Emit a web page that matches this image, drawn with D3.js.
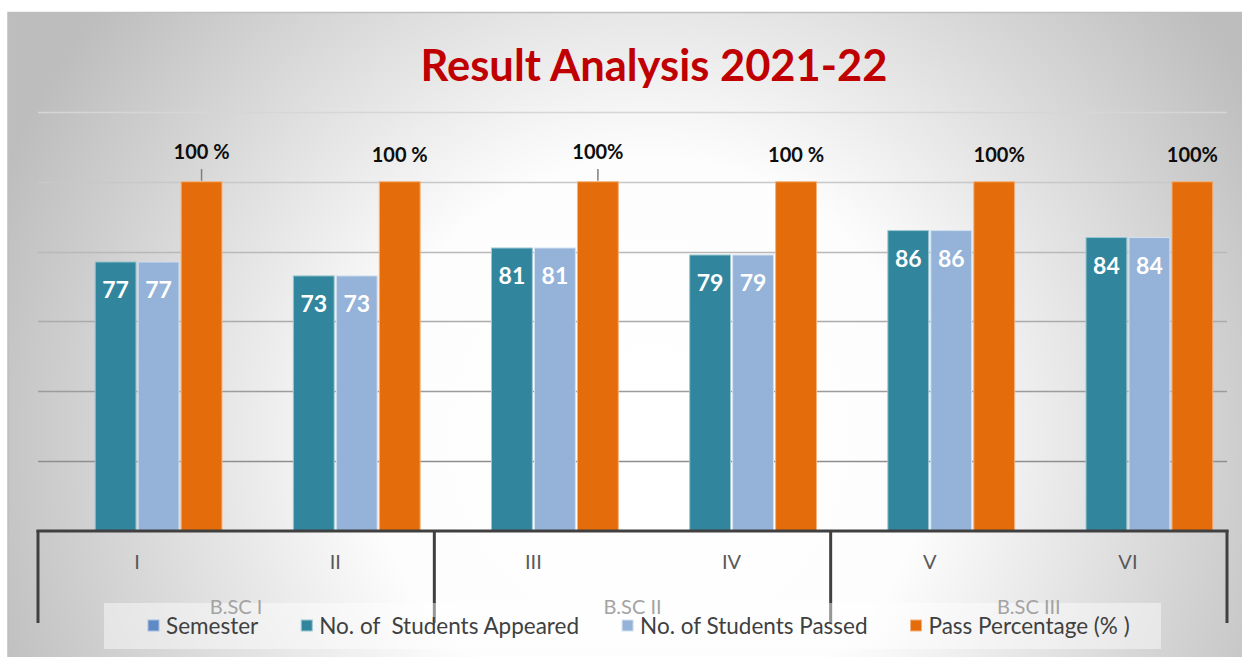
<!DOCTYPE html>
<html><head><meta charset="utf-8">
<script src="https://cdn.jsdelivr.net/npm/d3@7/dist/d3.min.js"></script>
<style>
html,body{margin:0;padding:0;background:#fff;}
svg{display:block;font-family:Lato,"Open Sans",sans-serif;}
</style></head>
<body>
<svg id="chart" width="1242" height="657"></svg>
<script>
// ---- data ----
const title = "Result Analysis 2021-22";
const semesters = ["I","II","III","IV","V","VI"];
const courses = ["B.SC I","B.SC II","B.SC III"];
const courseOf = ["B.SC I","B.SC I","B.SC II","B.SC II","B.SC III","B.SC III"];
const seriesNames = ["Semester","No. of  Students Appeared","No. of Students Passed","Pass Percentage (% )"];
const appeared = [77,73,81,79,86,84];
const passed = [77,73,81,79,86,84];
const passPct = [100,100,100,100,100,100];
const passPctLabels = ["100 %","100 %","100%","100 %","100%","100%"];
const leaderLabelSemesters = ["I","III"];
const yTicks = [20,40,60,80,100,120];

// ---- setup ----
const svg = d3.select("#chart");
const W = 1242, H = 657;
const colors = {"Semester":"#5f8ac6","No. of  Students Appeared":"#31869d","No. of Students Passed":"#95b3d8","Pass Percentage (% )":"#e46c0a"};
const strokes = {"Semester":"#a9c0e2","No. of  Students Appeared":"#9cc7d2","No. of Students Passed":"#d3e0f0","Pass Percentage (% )":"#f6b27a"};

const defs = svg.append("defs");
const rg = defs.append("radialGradient").attr("id","bg").attr("gradientUnits","userSpaceOnUse")
  .attr("cx",650).attr("cy",440).attr("r",700);
rg.append("stop").attr("offset","0").attr("stop-color","#ffffff");
rg.append("stop").attr("offset","0.4").attr("stop-color","#fdfdfd");
rg.append("stop").attr("offset","1").attr("stop-color","#bdbdbd");

svg.append("rect").attr("x",8).attr("y",12).attr("width",W-8).attr("height",H-12).attr("fill","url(#bg)");
svg.append("path").attr("d",`M8,${H} V12.5 H${W}`).attr("fill","none").attr("stroke","#bfbfbf").attr("stroke-width",1.5);

// title
svg.append("text").attr("x",654).attr("y",81).attr("text-anchor","middle")
  .attr("font-size",44).attr("font-weight",700).attr("fill","#c00000")
  .attr("textLength",467).attr("lengthAdjust","spacingAndGlyphs").text(title);

// scales
const x0 = d3.scaleBand().domain(semesters).range([38,1227]);
const x1 = d3.scaleBand().domain(seriesNames).range([0,x0.bandwidth()]).paddingInner(0.05).paddingOuter(0.33);
const y = d3.scaleLinear().domain([0,120]).range([530.5,112]);

// gridlines
const gridColor = d3.scaleLinear().domain([20,120]).range(["#8e8e8e","#d6d6d6"]);
svg.append("g").selectAll("line").data(yTicks).join("line")
  .attr("x1",38).attr("x2",1227).attr("y1",d=>Math.round(y(d))+0.5).attr("y2",d=>Math.round(y(d))+0.5)
  .attr("stroke",d=>gridColor(d)).attr("stroke-width",1.5);

// bars
const rows = semesters.map((s,i)=>({sem:s, vals:[
  {k:seriesNames[0], v:null},
  {k:seriesNames[1], v:appeared[i]},
  {k:seriesNames[2], v:passed[i]},
  {k:seriesNames[3], v:passPct[i], label:passPctLabels[i]}
]}));
const g = svg.append("g").selectAll("g").data(rows).join("g").attr("transform",d=>`translate(${x0(d.sem)},0)`);
g.selectAll("rect").data(d=>d.vals.filter(v=>v.v!=null)).join("rect")
  .attr("x",d=>x1(d.k)).attr("width",x1.bandwidth())
  .attr("y",d=>y(d.v)).attr("height",d=>y(0)-y(d.v))
  .attr("fill",d=>colors[d.k]).attr("stroke",d=>strokes[d.k]).attr("stroke-width",1);

// value labels inside bars
g.selectAll("text.val").data(d=>d.vals.filter(v=>v.v!=null && v.k!==seriesNames[3])).join("text")
  .attr("class","val").attr("x",d=>x1(d.k)+x1.bandwidth()/2).attr("y",d=>y(d.v)+36)
  .attr("text-anchor","middle").attr("font-size",23).attr("font-weight",700).attr("fill","#ffffff")
  .text(d=>d.v);

// pass percentage labels
g.each(function(d){
  const v = d.vals[3];
  const cx = x1(v.k)+x1.bandwidth()/2;
  const hasLeader = leaderLabelSemesters.includes(d.sem);
  const sel = d3.select(this);
  sel.append("text").attr("x",cx+(d.sem==="V"?5:0)).attr("y",hasLeader?159:162)
    .attr("text-anchor","middle").attr("font-size",20).attr("font-weight",700).attr("fill","#0d0d0d")
    .attr("style","white-space:pre").text(v.label);
  if(hasLeader){
    sel.append("line").attr("x1",cx).attr("x2",cx).attr("y1",169).attr("y2",y(v.v)-1)
      .attr("stroke","#7f7f7f").attr("stroke-width",1.5);
  }
});

// category axis labels
svg.append("g").selectAll("text").data(semesters).join("text")
  .attr("x",d=>x0(d)+x0.bandwidth()/2).attr("y",569).attr("text-anchor","middle")
  .attr("font-size",20).attr("fill","#595959").text(d=>d);

// group extents
const groupExtent = courses.map(c=>{
  const sems = semesters.filter((s,i)=>courseOf[i]===c);
  return {c, x0:x0(sems[0]), x1:x0(sems[sems.length-1])+x0.bandwidth()};
});

// axis lines
const divX = [groupExtent[0].x0].concat(groupExtent.map(d=>d.x1));
svg.append("g").selectAll("line").data(divX).join("line")
  .attr("x1",d=>d).attr("x2",d=>d).attr("y1",530).attr("y2",623)
  .attr("stroke","#404040").attr("stroke-width",3);
svg.append("line").attr("x1",38-1.5).attr("x2",1227+1.5).attr("y1",531).attr("y2",531)
  .attr("stroke","#404040").attr("stroke-width",3);

// legend
const lg = svg.append("g");
lg.append("rect").attr("x",104).attr("y",603).attr("width",1057).attr("height",46)
  .attr("fill","#ffffff").attr("fill-opacity",0.45);

// group labels (partly covered by legend in the original; drawn light)
svg.append("g").selectAll("text").data(groupExtent).join("text")
  .attr("x",d=>(d.x0+d.x1)/2).attr("y",614).attr("text-anchor","middle")
  .attr("font-size",20).attr("fill","#a3a3a3").text(d=>d.c);

let lx = 148;
seriesNames.forEach(n=>{
  lg.append("rect").attr("x",lx).attr("y",620).attr("width",11).attr("height",11)
    .attr("fill",colors[n]).attr("stroke",strokes[n]).attr("stroke-width",1);
  const t = lg.append("text").attr("x",lx+18).attr("y",634).attr("font-size",22.5).attr("fill","#404040")
    .attr("style","white-space:pre").text(n);
  lx += 18 + t.node().getComputedTextLength() + 43;
});
</script>
</body></html>
